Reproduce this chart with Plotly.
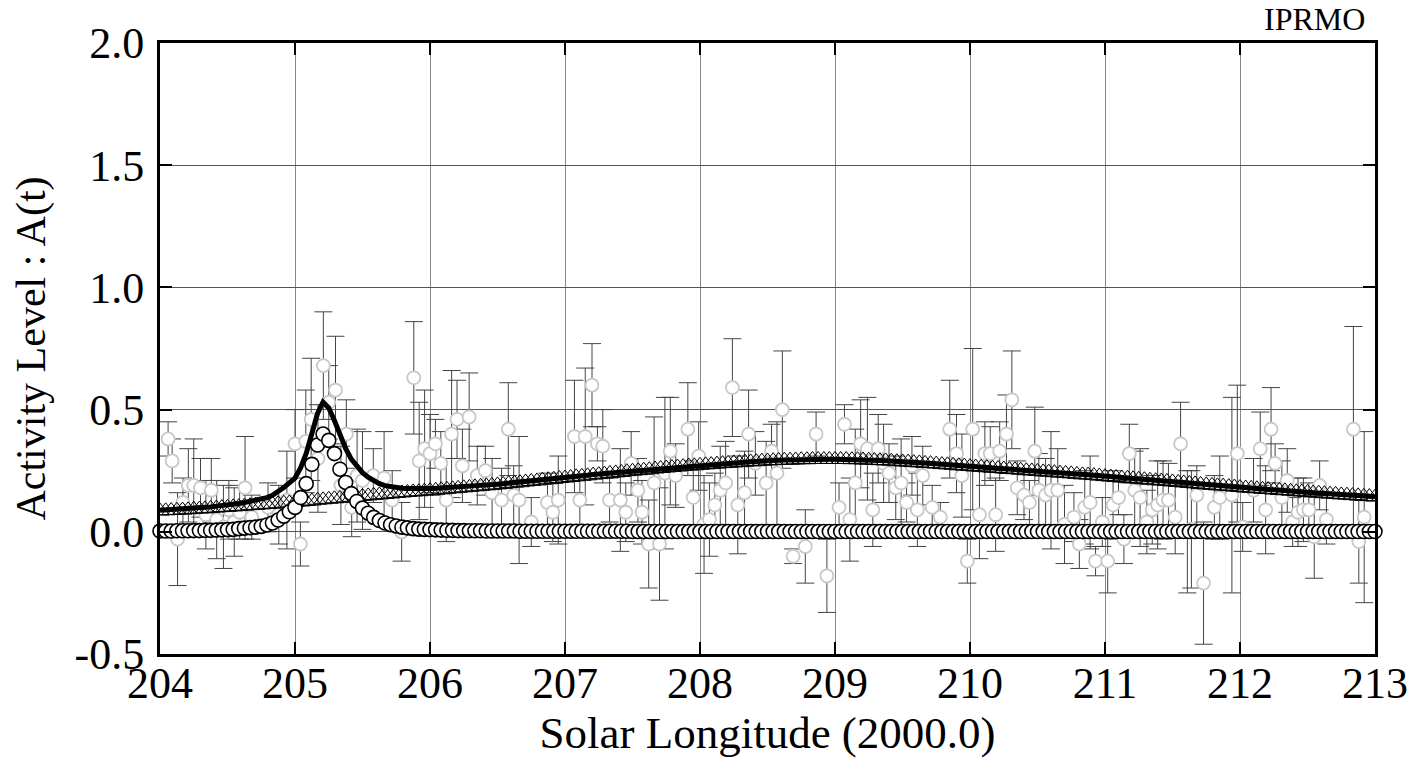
import plotly.graph_objects as go

# ---- model grid (solar longitude, 1/24 deg steps) ----
LON_MODEL = [
 204.000,204.042,204.083,204.125,204.167,204.208,204.250,204.292,204.333,204.375,204.417,204.458,204.500,204.542,204.583,204.625,204.667,204.708,204.750,204.792,204.833,204.875,204.917,204.958,
 205.000,205.042,205.083,205.125,205.167,205.208,205.250,205.292,205.333,205.375,205.417,205.458,205.500,205.542,205.583,205.625,205.667,205.708,205.750,205.792,205.833,205.875,205.917,205.958,
 206.000,206.042,206.083,206.125,206.167,206.208,206.250,206.292,206.333,206.375,206.417,206.458,206.500,206.542,206.583,206.625,206.667,206.708,206.750,206.792,206.833,206.875,206.917,206.958,
 207.000,207.042,207.083,207.125,207.167,207.208,207.250,207.292,207.333,207.375,207.417,207.458,207.500,207.542,207.583,207.625,207.667,207.708,207.750,207.792,207.833,207.875,207.917,207.958,
 208.000,208.042,208.083,208.125,208.167,208.208,208.250,208.292,208.333,208.375,208.417,208.458,208.500,208.542,208.583,208.625,208.667,208.708,208.750,208.792,208.833,208.875,208.917,208.958,
 209.000,209.042,209.083,209.125,209.167,209.208,209.250,209.292,209.333,209.375,209.417,209.458,209.500,209.542,209.583,209.625,209.667,209.708,209.750,209.792,209.833,209.875,209.917,209.958,
 210.000,210.042,210.083,210.125,210.167,210.208,210.250,210.292,210.333,210.375,210.417,210.458,210.500,210.542,210.583,210.625,210.667,210.708,210.750,210.792,210.833,210.875,210.917,210.958,
 211.000,211.042,211.083,211.125,211.167,211.208,211.250,211.292,211.333,211.375,211.417,211.458,211.500,211.542,211.583,211.625,211.667,211.708,211.750,211.792,211.833,211.875,211.917,211.958,
 212.000,212.042,212.083,212.125,212.167,212.208,212.250,212.292,212.333,212.375,212.417,212.458,212.500,212.542,212.583,212.625,212.667,212.708,212.750,212.792,212.833,212.875,212.917,212.958,
 213.000]

# sharp (outburst) component - open circles
SHARP = [
 0.003,0.003,0.003,0.004,0.004,0.004,0.005,0.005,0.006,0.006,0.007,0.008,0.009,0.010,0.013,0.015,0.017,0.019,0.022,0.028,0.036,0.048,0.064,0.082,
 0.100,0.140,0.197,0.276,0.355,0.400,0.374,0.320,0.256,0.202,0.156,0.124,0.097,0.076,0.059,0.046,0.036,0.029,0.024,0.019,0.016,0.013,0.011,0.010,
 0.009,0.008,0.007,0.006,0.006,0.005,0.005,0.004,0.004,0.004,0.003,0.003,0.003,0.003,0.003,0.003,0.002,0.002,0.002,0.002,0.002,0.002,0.002,0.002,
 0.002,0.002,0.002,0.002,0.002,0.002,0.002,0.002,0.002,0.002,0.002,0.002,0.001,0.001,0.001,0.001,0.001,0.001,0.001,0.001,0.001,0.001,0.001,0.001,
 0.001,0.001,0.001,0.001,0.001,0.001,0.001,0.001,0.001,0.001,0.001,0.001,0.001,0.001,0.001,0.001,0.001,0.001,0.001,0.001,0.001,0.001,0.001,0.001,
 0.001,0.001,0.001,0.001,0.001,0.001,0.001,0.001,0.001,0.001,0.001,0.001,0.001,0.001,0.001,0.001,0.001,0.001,0.001,0.001,0.001,0.001,0.001,0.001,
 0.001,0.001,0.001,0.001,0.001,0.001,0.001,0.001,0.001,0.001,0.001,0.001,0.001,0.001,0.001,0.001,0.001,0.001,0.001,0.001,0.001,0.001,0.001,0.001,
 0.001,0.001,0.001,0.001,0.001,0.001,0.001,0.001,0.001,0.001,0.001,0.001,0.001,0.001,0.001,0.001,0.001,0.001,0.001,0.001,0.001,0.001,0.001,0.001,
 0.001,0.001,0.001,0.001,0.001,0.001,0.001,0.001,0.001,0.001,0.001,0.001,0.001,0.001,0.001,0.001,0.001,0.001,0.001,0.001,0.001,0.001,0.001,0.001,
 0.001]

# broad (background) component - open triangles
BROAD = [
 0.085,0.086,0.087,0.088,0.089,0.090,0.092,0.093,0.094,0.096,0.097,0.099,0.100,0.102,0.103,0.105,0.107,0.108,0.110,0.112,0.113,0.115,0.117,0.118,
 0.120,0.122,0.124,0.126,0.129,0.131,0.133,0.135,0.137,0.139,0.141,0.143,0.145,0.147,0.149,0.151,0.153,0.155,0.157,0.159,0.161,0.163,0.164,0.166,
 0.168,0.170,0.172,0.174,0.176,0.178,0.180,0.182,0.184,0.186,0.188,0.190,0.192,0.194,0.197,0.199,0.201,0.204,0.206,0.208,0.211,0.213,0.215,0.218,
 0.220,0.222,0.225,0.227,0.229,0.232,0.234,0.236,0.239,0.241,0.243,0.246,0.248,0.250,0.252,0.254,0.257,0.259,0.261,0.263,0.265,0.267,0.269,0.270,
 0.272,0.274,0.275,0.277,0.279,0.280,0.282,0.283,0.285,0.286,0.287,0.289,0.290,0.291,0.292,0.293,0.293,0.294,0.295,0.295,0.296,0.296,0.296,0.296,
 0.296,0.296,0.296,0.295,0.295,0.294,0.293,0.292,0.291,0.290,0.289,0.287,0.286,0.285,0.283,0.282,0.280,0.279,0.277,0.275,0.274,0.272,0.270,0.269,
 0.267,0.265,0.264,0.262,0.260,0.259,0.257,0.255,0.254,0.252,0.250,0.249,0.247,0.245,0.244,0.242,0.240,0.239,0.237,0.235,0.233,0.232,0.230,0.228,
 0.226,0.224,0.222,0.220,0.219,0.217,0.215,0.213,0.211,0.209,0.208,0.206,0.204,0.202,0.200,0.198,0.196,0.194,0.192,0.190,0.188,0.187,0.185,0.183,
 0.181,0.179,0.178,0.176,0.174,0.173,0.171,0.169,0.168,0.166,0.164,0.163,0.161,0.159,0.158,0.156,0.154,0.153,0.151,0.150,0.148,0.147,0.145,0.144,
 0.142]

# ---- observations (activity level with errors) ----
OBS_LON = [
 204.06,204.09,204.13,204.17,204.21,204.25,204.30,204.34,204.38,204.42,204.47,204.51,204.55,204.59,204.63,204.68,204.80,204.88,204.94,
 205.00,205.04,205.08,205.12,205.17,205.21,205.25,205.30,205.34,205.38,205.42,205.46,205.50,205.58,205.66,205.72,205.79,205.88,205.92,205.96,
 206.00,206.04,206.08,206.12,206.16,206.20,206.24,206.29,206.35,206.41,206.46,206.53,206.58,206.62,206.66,206.75,206.87,206.91,206.95,
 207.07,207.11,207.15,207.20,207.24,207.28,207.33,207.41,207.45,207.49,207.54,207.57,207.62,207.66,207.70,207.74,207.78,207.82,207.91,207.95,207.99,
 208.03,208.07,208.11,208.15,208.19,208.24,208.28,208.33,208.36,208.41,208.49,208.53,208.57,208.61,208.69,208.78,208.86,208.94,
 209.03,209.07,209.11,209.15,209.19,209.24,209.28,209.32,209.36,209.40,209.45,209.49,209.53,209.57,209.61,209.65,209.72,209.78,209.85,209.90,209.94,209.98,
 210.02,210.07,210.11,210.15,210.19,210.22,210.27,210.31,210.35,210.40,210.44,210.48,210.51,210.56,210.60,210.65,210.70,210.77,210.81,210.85,210.89,210.93,210.98,
 211.02,211.06,211.10,211.14,211.18,211.22,211.26,211.31,211.35,211.39,211.43,211.47,211.52,211.56,211.61,211.64,211.68,211.73,211.81,211.85,211.94,211.98,
 212.02,212.10,212.15,212.19,212.23,212.26,212.31,212.35,212.39,212.43,212.47,212.51,212.55,212.59,212.64,212.84,212.88,212.92]
OBS_A = [
 0.38,0.29,-0.03,0.12,0.19,0.19,0.18,0.07,0.17,0.05,0.02,0.09,0.04,0.08,0.18,0.06,0.10,0.07,0.13,
 0.36,-0.05,0.37,0.46,0.30,0.68,0.53,0.58,0.19,0.40,0.10,0.23,0.21,0.23,0.22,0.13,0.00,0.63,0.29,0.34,
 0.32,0.36,0.28,0.13,0.40,0.46,0.27,0.47,0.23,0.25,0.16,0.13,0.42,0.15,0.13,0.04,0.12,0.08,0.13,
 0.39,0.13,0.39,0.60,0.36,0.35,0.13,0.13,0.08,0.28,0.17,0.08,-0.05,0.20,-0.05,0.24,0.33,0.23,0.42,0.14,0.31,
 0.03,0.05,0.11,0.17,0.20,0.59,0.11,0.16,0.40,0.28,0.20,0.33,0.24,0.50,-0.10,-0.06,0.40,-0.18,
 0.10,0.44,0.05,0.20,0.36,0.34,0.09,0.34,0.28,0.24,0.18,0.20,0.12,0.27,0.09,0.23,0.10,0.06,0.42,0.32,0.23,-0.12,
 0.42,0.07,0.32,0.32,0.07,0.33,0.40,0.54,0.18,0.15,0.12,0.33,0.17,0.15,0.17,0.17,0.03,0.06,-0.05,0.10,0.12,-0.12,0.04,
 -0.12,0.11,0.14,-0.03,0.32,0.17,0.14,0.04,0.09,0.11,0.13,0.13,0.06,0.36,0.00,0.01,0.15,-0.21,0.10,0.14,0.15,0.32,
 0.02,0.17,0.34,0.09,0.42,0.28,0.14,0.21,0.04,0.08,0.09,0.09,-0.02,0.19,0.05,0.42,-0.04,0.06]
OBS_ERR = [
 0.07,0.09,0.19,0.10,0.15,0.19,0.12,0.14,0.13,0.16,0.17,0.12,0.14,0.11,0.21,0.09,0.10,0.12,0.20,
 0.14,0.09,0.21,0.25,0.22,0.22,0.15,0.22,0.16,0.14,0.12,0.19,0.20,0.11,0.19,0.12,0.12,0.23,0.24,0.24,
 0.16,0.10,0.13,0.17,0.26,0.16,0.15,0.18,0.12,0.10,0.14,0.13,0.19,0.12,0.26,0.10,0.12,0.12,0.18,
 0.23,0.10,0.28,0.17,0.07,0.15,0.09,0.21,0.12,0.13,0.13,0.13,0.18,0.27,0.23,0.31,0.22,0.13,0.19,0.15,0.14,
 0.20,0.15,0.13,0.18,0.17,0.20,0.20,0.17,0.18,0.13,0.17,0.11,0.21,0.24,0.03,0.15,0.09,0.15,
 0.10,0.08,0.17,0.22,0.18,0.21,0.15,0.14,0.16,0.12,0.13,0.18,0.08,0.12,0.15,0.12,0.09,0.06,0.20,0.16,0.17,0.09,
 0.33,0.18,0.13,0.11,0.15,0.12,0.16,0.20,0.11,0.10,0.09,0.18,0.15,0.15,0.24,0.17,0.16,0.10,0.10,0.15,0.19,0.06,0.10,
 0.13,0.14,0.07,0.10,0.12,0.16,0.20,0.13,0.14,0.18,0.16,0.15,0.15,0.17,0.25,0.24,0.12,0.25,0.13,0.17,0.40,0.28,
 0.10,0.13,0.15,0.18,0.17,0.08,0.15,0.13,0.10,0.14,0.13,0.11,0.17,0.10,0.10,0.42,0.17,0.35]

X_TICKS = [204, 205, 206, 207, 208, 209, 210, 211, 212, 213]
Y_TICKS = [-0.5, 0.0, 0.5, 1.0, 1.5, 2.0]
Y_TICK_TEXT = ["-0.5", "0.0", "0.5", "1.0", "1.5", "2.0"]

TOTAL = [s + b for s, b in zip(SHARP, BROAD)]

FONT = "Liberation Serif"

fig = go.Figure()

fig.add_trace(go.Scatter(
    x=OBS_LON, y=OBS_A, mode="markers",
    marker=dict(symbol="circle", size=13, color="white",
                line=dict(color="#c8c8c8", width=1.8)),
    error_y=dict(type="data", array=OBS_ERR, visible=True,
                 color="#444444", thickness=1, width=9),
    showlegend=False, hoverinfo="skip"))

fig.add_trace(go.Scatter(
    x=LON_MODEL, y=BROAD, mode="markers",
    marker=dict(symbol="triangle-up-open", size=16, color="black",
                line=dict(color="black", width=1)),
    showlegend=False, hoverinfo="skip"))

fig.add_trace(go.Scatter(
    x=LON_MODEL, y=SHARP, mode="markers",
    marker=dict(symbol="circle", size=14, color="white",
                line=dict(color="black", width=1.6)),
    showlegend=False, cliponaxis=False, hoverinfo="skip"))

fig.add_trace(go.Scatter(
    x=LON_MODEL, y=TOTAL, mode="lines",
    line=dict(color="black", width=5),
    showlegend=False, hoverinfo="skip"))

axis_common = dict(
    showline=True, linecolor="black", linewidth=3, mirror="ticks",
    ticks="inside", ticklen=12, tickwidth=2, tickcolor="black",
    showgrid=True, gridwidth=1, zeroline=False,
    tickfont=dict(family=FONT, size=44, color="black"),
)

fig.update_xaxes(
    range=[204, 213], tickvals=X_TICKS, ticktext=[str(v) for v in X_TICKS],
    gridcolor="#888888", ticklabelstandoff=-12,
    title=dict(text="Solar Longitude (2000.0)", font=dict(family=FONT, size=45, color="black"), standoff=6),
    **axis_common)
fig.update_yaxes(
    range=[-0.5, 2.0], tickvals=Y_TICKS, ticktext=Y_TICK_TEXT,
    gridcolor="#555555", ticklabelstandoff=4,
    title=dict(text="Activity Level : A(t)", font=dict(family=FONT, size=42, color="black"), standoff=16),
    **axis_common)

fig.add_annotation(text="IPRMO", xref="paper", yref="paper", x=0.950, y=1.039,
                   xanchor="center", yanchor="middle", showarrow=False,
                   font=dict(family=FONT, size=32, color="black"))

fig.update_layout(
    width=1420, height=770,
    margin=dict(l=160, r=37, t=43, b=116),
    paper_bgcolor="white", plot_bgcolor="white",
)

# remove the default 8px page margin so the figure fills the window exactly
fig.write_html("out.html", post_script="document.body.style.margin='0px';",
               config={"displayModeBar": False})
